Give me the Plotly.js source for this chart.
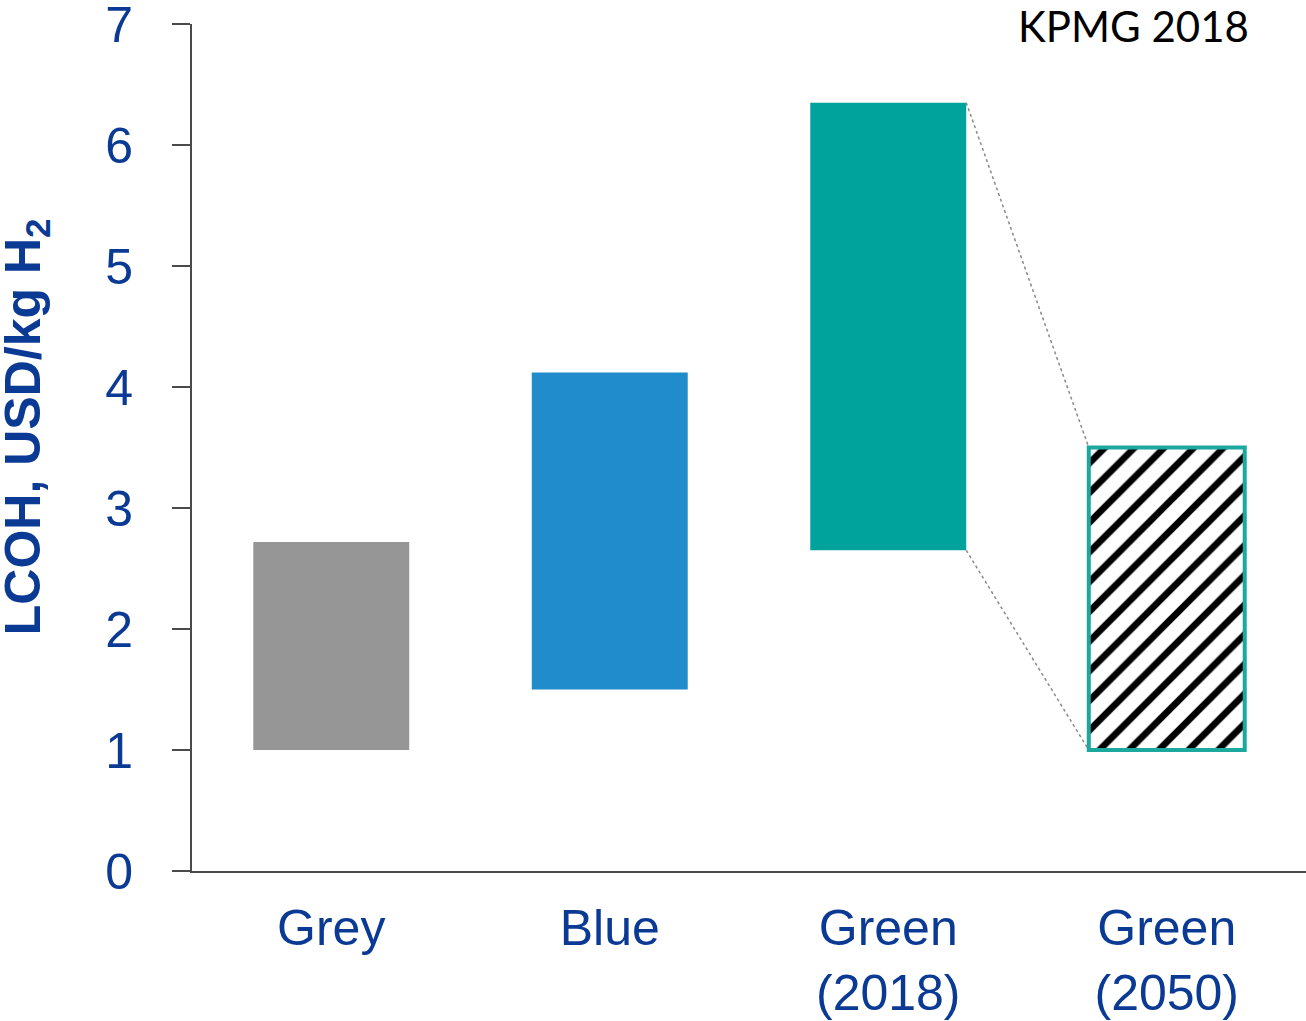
<!DOCTYPE html>
<html>
<head>
<meta charset="utf-8">
<script src="https://cdn.plot.ly/plotly-3.0.1.min.js"></script>
<style>
  html, body { margin: 0; padding: 0; background: #ffffff; }
  #chart { width: 1306px; height: 1021px; }
</style>
</head>
<body>
<div id="chart"></div>
<script>
// Levelised cost of hydrogen ranges by production route (USD/kg H2)
const categories = ['Grey', 'Blue', 'Green<br>(2018)', 'Green<br>(2050)'];
const costLow  = [1.00, 1.50, 2.65, 1.00];
const costHigh = [2.72, 4.12, 6.35, 3.50];
const yTicks = [0, 1, 2, 3, 4, 5, 6, 7];

const barColors = ['#969696', '#218ccc', '#00a39b'];
const teal = '#1aa89f';
const labelBlue = '#0b3a95';
const barWidth = 0.56;

const xPos = categories.map((_, i) => i);
const span = costHigh.map((h, i) => h - costLow[i]);

// Solid ranges: Grey, Blue, Green (2018)
const solidBars = {
  type: 'bar',
  x: xPos.slice(0, 3),
  y: span.slice(0, 3),
  base: costLow.slice(0, 3),
  width: barWidth,
  marker: { color: barColors, line: { width: 0 } },
  hoverinfo: 'skip',
  showlegend: false
};

// Hatched projected range: Green (2050)
const hatchedBar = {
  type: 'bar',
  x: xPos.slice(3),
  y: span.slice(3),
  base: costLow.slice(3),
  width: barWidth,
  marker: {
    color: '#ffffff',
    line: { color: teal, width: 4 },
    pattern: {
      shape: '/',
      fgcolor: '#000000',
      bgcolor: '#ffffff',
      size: 21,
      solidity: 0.32
    }
  },
  hoverinfo: 'skip',
  showlegend: false
};

// Dotted guides from the 2018 green range to the 2050 green range
const g18 = 2, g50 = 3;
const half = barWidth / 2;
const guideStyle = { color: '#8a8a8a', width: 1.5, dash: 'dot' };
const guideTop = {
  type: 'scatter', mode: 'lines',
  x: [xPos[g18] + half, xPos[g50] - half],
  y: [costHigh[g18], costHigh[g50]],
  line: guideStyle, hoverinfo: 'skip', showlegend: false
};
const guideBottom = {
  type: 'scatter', mode: 'lines',
  x: [xPos[g18] + half, xPos[g50] - half],
  y: [costLow[g18], costLow[g50]],
  line: guideStyle, hoverinfo: 'skip', showlegend: false
};

const layout = {
  width: 1306,
  height: 1021,
  margin: { l: 192, r: 0, t: 24, b: 150 },
  paper_bgcolor: '#ffffff',
  plot_bgcolor: '#ffffff',
  font: { family: '"Liberation Sans", Arial, sans-serif', color: labelBlue },
  barmode: 'overlay',
  xaxis: {
    range: [-0.5, 3.5],
    tickvals: xPos,
    ticktext: categories,
    showgrid: false,
    zeroline: false,
    showline: true,
    linecolor: '#4a4a4a',
    linewidth: 2,
    ticks: '',
    ticklabelstandoff: 12,
    ticklabeloverflow: 'allow',
    tickfont: { size: 50, color: labelBlue },
    fixedrange: true
  },
  yaxis: {
    range: [0, 7],
    tickvals: yTicks,
    showgrid: false,
    zeroline: false,
    showline: true,
    linecolor: '#4a4a4a',
    linewidth: 2,
    ticks: 'outside',
    ticklen: 18,
    tickwidth: 2,
    tickcolor: '#4a4a4a',
    ticklabelstandoff: 29,
    ticklabeloverflow: 'allow',
    tickfont: { size: 50, color: labelBlue },
    fixedrange: true
  },
  annotations: [
    {
      text: '<b>LCOH, USD/kg H<sub>2</sub></b>',
      xref: 'paper', yref: 'paper',
      x: -0.149, y: 0.524,
      xanchor: 'center', yanchor: 'middle',
      textangle: -90,
      showarrow: false,
      font: { size: 50, color: labelBlue, family: '"Liberation Sans", Arial, sans-serif' }
    },
    {
      text: 'KPMG 2018',
      xref: 'paper', yref: 'paper',
      x: 0.9506, y: 0.998,
      xanchor: 'right', yanchor: 'middle',
      showarrow: false,
      font: { size: 42, color: '#000000', family: 'Lato, "Liberation Sans", sans-serif' }
    }
  ]
};

Plotly.newPlot('chart', [solidBars, hatchedBar, guideTop, guideBottom], layout, { displayModeBar: false, staticPlot: true });
</script>
</body>
</html>
